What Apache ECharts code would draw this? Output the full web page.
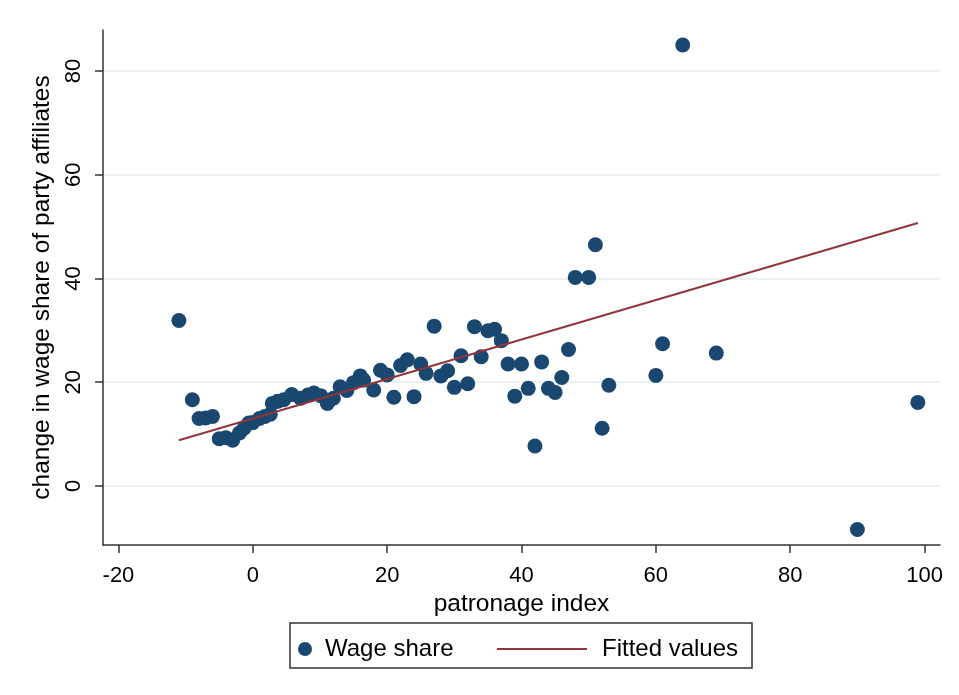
<!DOCTYPE html>
<html>
<head>
<meta charset="utf-8">
<script src="https://cdn.jsdelivr.net/npm/echarts@6/dist/echarts.min.js"></script>
<style>
  html, body { margin: 0; padding: 0; background: #fff; }
  #chart { width: 959px; height: 695px; }
</style>
</head>
<body>
<div id="chart"></div>
<script>
// patronage index (x) and change in wage share of party affiliates (y)
const patronage = [
  -11, -9, -8, -7, -6, -5, -4, -3, -2, -1.3, -0.6, 0, 1, 1.8, 2.6, 2.9, 3.7, 4.6,
  5.8, 7.1, 8.2, 9.1, 10.1, 11.1, 12, 13, 14, 15, 16, 16.5, 18, 19, 20, 21, 22,
  23, 24, 25, 25.8, 27, 28, 29, 30, 31, 32, 33, 34, 35, 36, 37, 38, 39, 40, 41,
  42, 43, 44, 45, 46, 47, 48, 50, 51, 52, 53, 60, 61, 64, 69, 90, 99
];
const wageShare = [
  31.9, 16.6, 13.0, 13.1, 13.4, 9.1, 9.3, 8.8, 10.2, 11.1, 12.1, 12.2, 13.0, 13.4,
  13.8, 15.9, 16.3, 16.6, 17.6, 16.9, 17.5, 17.9, 17.4, 15.9, 16.9, 19.1, 18.4,
  19.9, 21.2, 20.4, 18.5, 22.3, 21.4, 17.1, 23.2, 24.3, 17.2, 23.5, 21.7, 30.8,
  21.2, 22.2, 19.0, 25.1, 19.7, 30.7, 24.9, 29.9, 30.2, 28.0, 23.5, 17.3, 23.5,
  18.8, 7.7, 23.9, 18.8, 18.0, 20.9, 26.3, 40.2, 40.2, 46.5, 11.1, 19.4, 21.3,
  27.4, 85.0, 25.6, -8.4, 16.1
];
// fitted values at the ends of the data range
const fitX = [-11, 99];
const fitY = [8.8, 50.7];

const xTicks = [-20, 0, 20, 40, 60, 80, 100];
const yTicks = [0, 20, 40, 60, 80];

const FONT = '"Liberation Sans", Arial, sans-serif';
const chart = echarts.init(document.getElementById('chart'));

const option = {
  backgroundColor: '#fff',
  animation: false,
  textStyle: { fontFamily: FONT },
  grid: { left: 103, right: 19, top: 30, bottom: 150 },
  xAxis: {
    type: 'value',
    min: -22.3,
    max: 102.3,
    name: 'patronage index',
    nameLocation: 'middle',
    nameGap: 40,
    nameTextStyle: { fontSize: 24.5, color: '#000', fontFamily: FONT },
    axisLine: { onZero: false, lineStyle: { color: '#333', width: 1.5 } },
    axisTick: { show: true, length: 8, customValues: xTicks, lineStyle: { color: '#333', width: 1.5 } },
    axisLabel: { customValues: xTicks, fontSize: 22, color: '#000', margin: 20, fontFamily: FONT },
    splitLine: { show: false }
  },
  yAxis: {
    type: 'value',
    min: -11.4,
    max: 87.9,
    name: 'change in wage share of party affiliates',
    nameLocation: 'middle',
    nameGap: 46,
    nameTextStyle: { fontSize: 24.5, color: '#000', fontFamily: FONT },
    axisLine: { show: true, onZero: false, lineStyle: { color: '#333', width: 1.5 } },
    axisTick: { show: true, length: 8, customValues: yTicks, lineStyle: { color: '#333', width: 1.5 } },
    axisLabel: { customValues: yTicks, rotate: 90, fontSize: 22, color: '#000', margin: 18, fontFamily: FONT },
    splitLine: { show: true, lineStyle: { color: '#e6ebed', width: 1.5 } }
  },
  legend: [
    {
      data: [{ name: 'Wage share', icon: 'circle' }],
      left: 293,
      top: 632,
      itemWidth: 14,
      itemHeight: 14,
      textStyle: { fontSize: 24, color: '#000', padding: [0, 0, 0, 8], fontFamily: FONT }
    },
    {
      data: [{ name: 'Fitted values', icon: 'rect' }],
      left: 492,
      top: 632,
      itemWidth: 90,
      itemHeight: 2,
      textStyle: { fontSize: 24, color: '#000', padding: [0, 0, 0, 10], fontFamily: FONT }
    }
  ],
  graphic: [
    {
      type: 'rect',
      shape: { x: 290, y: 623, width: 462, height: 45 },
      style: { fill: 'none', stroke: '#333', lineWidth: 1.5 },
      silent: true
    }
  ],
  series: [
    {
      name: 'Wage share',
      type: 'scatter',
      symbol: 'circle',
      symbolSize: 15,
      itemStyle: { color: '#1a476f', opacity: 1 },
      data: patronage.map((x, i) => [x, wageShare[i]]),
      z: 2
    },
    {
      name: 'Fitted values',
      type: 'line',
      symbol: 'none',
      lineStyle: { color: '#90353b', width: 2 },
      itemStyle: { color: '#90353b' },
      data: fitX.map((x, i) => [x, fitY[i]]),
      z: 3
    }
  ]
};

chart.setOption(option);
</script>
</body>
</html>
